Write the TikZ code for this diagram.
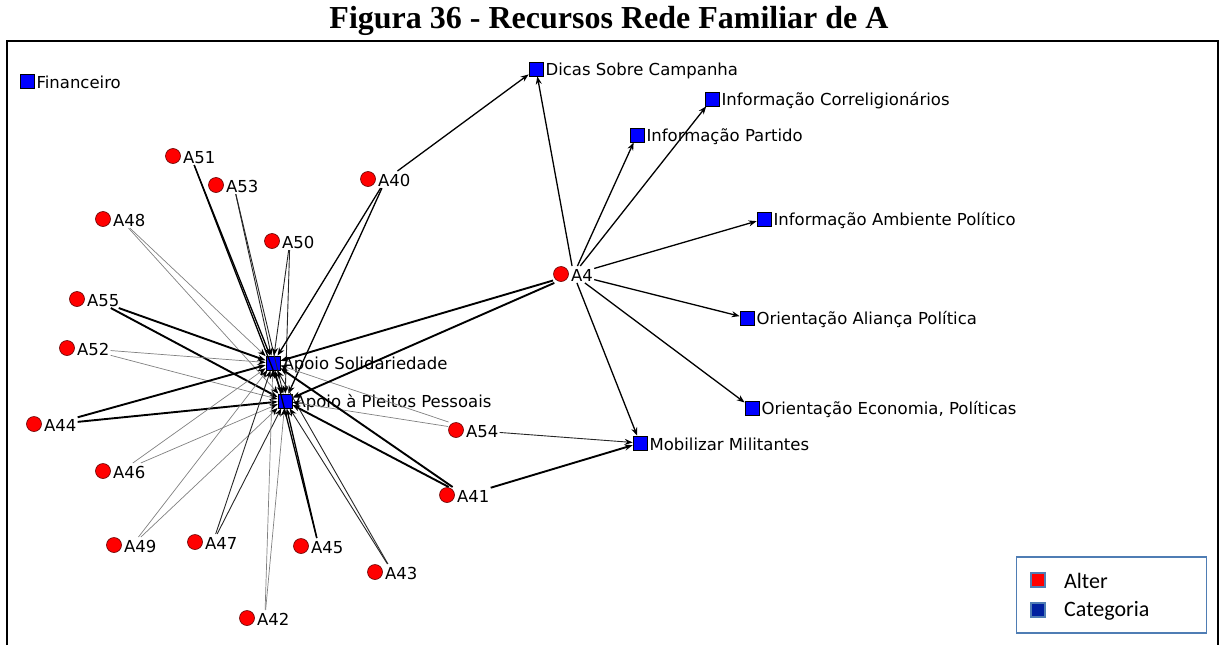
\documentclass[tikz,border=0pt]{standalone}
\usepackage{fontspec}
\setmainfont{DejaVu Sans}
\newfontfamily\titlefont{Liberation Serif}
\newfontfamily\legfont{Carlito}
\usetikzlibrary{arrows.meta,fit}
\definecolor{legbd}{RGB}{79,125,180}
\definecolor{legblue}{RGB}{0,32,160}
\newcommand\mkalter[3]{%
  \node[alter] (#1) at (#2,#3) {};
  \node[lbl] (#1l) at ([xshift=1pt,yshift=-1.5pt]#1.east) {#1};
  \node[fit=(#1)(#1l), inner sep=0pt] (f-#1) {};}
\newcommand\mkcat[4]{%
  \node[cat] (#1) at (#2,#3) {};
  \node[lbl] (#1l) at ([xshift=1pt,yshift=-1.5pt]#1.east) {#4};}
\begin{document}
\begin{tikzpicture}[x=1pt,y=-1pt,
  alter/.style={circle, fill=red, draw=black!60!red, line width=0.6pt, minimum size=15pt, inner sep=0pt},
  cat/.style={rectangle, fill=blue, draw=black, line width=0.7pt, minimum size=14pt, inner sep=0pt},
  lbl/.style={font=\fontsize{16.5}{18}\selectfont, inner sep=1pt, anchor=west},
  arr/.style={-{Stealth[length=8pt,width=6pt,color=black]}},
  egray/.style={arr, draw=black!50, line width=0.7pt},
  ethin/.style={arr, draw=black!85, line width=0.9pt},
  emid/.style={arr, draw=black, line width=1.3pt},
  ebold/.style={arr, draw=black, line width=1.9pt}]
\useasboundingbox (0,0) rectangle (1222,645);
% title and frame
\node[font=\titlefont\bfseries\fontsize{32}{34}\selectfont, anchor=base, inner sep=0pt] (title) at (609,28) {Figura 36 - Recursos Rede Familiar de A};
\draw[line width=2pt] (7,645) -- (7,41) -- (1218,41) -- (1218,645);
% category nodes
\mkcat{FIN}{27}{81}{Financeiro}
\mkcat{DIC}{536}{69}{Dicas Sobre Campanha}
\mkcat{ICO}{712}{99}{Informação Correligionários}
\mkcat{IPA}{637}{135}{Informação Partido}
\mkcat{IAM}{764}{219}{Informação Ambiente Político}
\mkcat{OAL}{747}{318}{Orientação Aliança Política}
\mkcat{OEC}{752}{408}{Orientação Economia, Políticas}
\mkcat{MOB}{640}{443}{Mobilizar Militantes}
\mkcat{SOL}{273}{363}{Apoio Solidariedade}
\mkcat{PLE}{285}{401}{Apoio à Pleitos Pessoais}
% alters
\mkalter{A4}{561}{274}
\mkalter{A40}{368}{179}
\mkalter{A41}{447}{495}
\mkalter{A42}{247}{618}
\mkalter{A43}{375}{572}
\mkalter{A44}{34}{424}
\mkalter{A45}{301}{546}
\mkalter{A46}{103}{471}
\mkalter{A47}{195}{542}
\mkalter{A48}{103}{219}
\mkalter{A49}{114}{545}
\mkalter{A50}{272}{241}
\mkalter{A51}{173}{156}
\mkalter{A52}{67}{348}
\mkalter{A53}{216}{185}
\mkalter{A54}{456}{430}
\mkalter{A55}{77}{299}
% edges to the two support hubs
\foreach \a/\s in {A51/emid, A53/ethin, A48/egray, A50/ethin, A40/emid, A55/ebold, A52/egray,
  A44/ebold, A46/egray, A49/egray, A47/ethin, A45/emid, A43/ethin, A42/egray, A54/egray, A41/ebold, A4/ebold} {
  \draw[\s] (f-\a) -- (SOL);
  \draw[\s] (f-\a) -- (PLE);
}
% other edges
\draw[emid] (f-A40) -- (DIC);
\draw[ethin] (f-A54) -- (MOB);
\draw[ebold] (f-A41) -- (MOB);
\foreach \t in {DIC, IPA, ICO, IAM, OAL, OEC, MOB} {
  \draw[emid] (f-A4) -- (\t);
}
% legend
\node[draw=legbd, line width=1.8pt, minimum width=190pt, minimum height=76pt, inner sep=0pt] (leg) at (1111.5,595) {};
\node[rectangle, fill=red, draw=legbd, line width=1.5pt, minimum size=14pt, inner sep=0pt] (lgA) at (1038,580) {};
\node[rectangle, fill=legblue, draw=legbd, line width=1.5pt, minimum size=14pt, inner sep=0pt] (lgC) at (1038,610) {};
\node[font=\legfont\fontsize{22}{24}\selectfont, anchor=west, inner sep=0pt] (lgAt) at (1064,581) {Alter};
\node[font=\legfont\fontsize{22}{24}\selectfont, anchor=west, inner sep=0pt] (lgCt) at (1064,611) {Categoria};
\end{tikzpicture}
\end{document}
